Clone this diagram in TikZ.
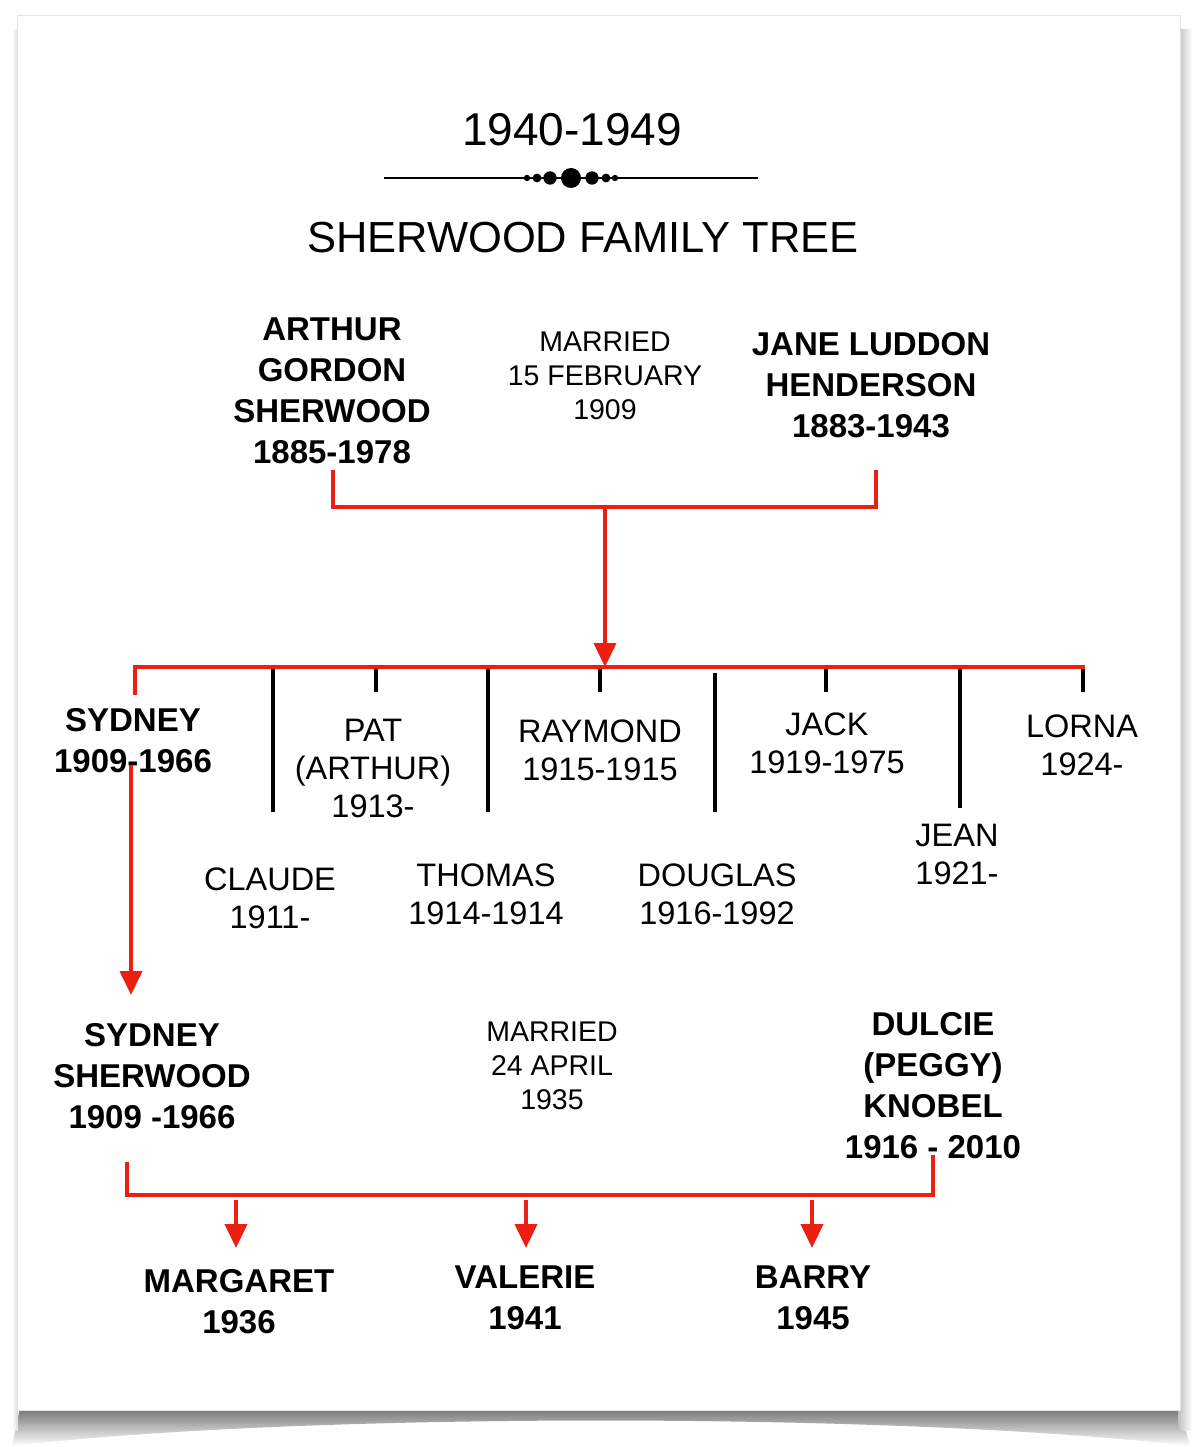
\documentclass[tikz,border=0pt]{standalone}
\usepackage{fontspec}
\setmainfont{Liberation Sans}
\usetikzlibrary{arrows.meta}
\definecolor{treered}{RGB}{236,32,18}
\tikzset{
  bname/.style={align=center, font=\fontsize{33}{41}\selectfont\bfseries, inner sep=0pt},
  rname/.style={align=center, font=\fontsize{32.5}{38}\selectfont, inner sep=0pt},
  mar/.style={align=center, font=\fontsize{28.5}{34}\selectfont, inner sep=0pt},
  redline/.style={draw=treered, line width=4pt},
  blackline/.style={draw=black, line width=3.5pt},
  redarrow/.style={redline, -{Triangle[length=24pt,width=22pt]}},
  orndot/.style={fill=black, draw=none},
}
\begin{document}
\begin{tikzpicture}[x=1pt, y=-1pt]
\useasboundingbox (0,0) rectangle (1200,1447);
% page shadow
\shade[top color=black!55, bottom color=white] (20,1408) -- (1180,1408) -- (1190,1446) .. controls (900,1412) and (300,1412) .. (12,1446) -- cycle;
\shade[left color=black!25, right color=white] (1178,30) rectangle (1192,1430);
\shade[left color=white, right color=black!15] (12,30) rectangle (18,1430);
\fill[white, draw=black!10, line width=0.6pt] (17,15) rectangle (1180,1410);

% title
\node[font=\fontsize{46}{50}\selectfont, inner sep=0pt] (year) at (572,130) {1940-1949};
\coordinate (ornL) at (384,178);
\coordinate (ornR) at (758,178);
\draw[line width=2pt] (ornL) -- (ornR);
\foreach \x/\r in {571/10,550/6.7,592/6.7,537/4.4,606/4.4,527/3.2,615/3.2}
  \fill[orndot] (\x,178) circle[radius=\r pt];
\node[font=\fontsize{43.5}{48}\selectfont, inner sep=0pt] (title) at (583,238) {SHERWOOD FAMILY TREE};

% parents
\node[bname] (arthur) at (332,391) {ARTHUR\\GORDON\\SHERWOOD\\1885-1978};
\node[mar] (married1) at (605,376) {MARRIED\\15 FEBRUARY\\1909};
\node[bname] (jane) at (871,385) {JANE LUDDON\\HENDERSON\\1883-1943};

% children of Arthur & Jane
\node[bname] (sydney) at (133,741) {SYDNEY\\1909-1966};
\node[rname] (claude) at (270,898) {CLAUDE\\1911-};
\node[rname] (pat) at (373,768) {PAT\\(ARTHUR)\\1913-};
\node[rname] (thomas) at (486,894) {THOMAS\\1914-1914};
\node[rname] (raymond) at (600,750) {RAYMOND\\1915-1915};
\node[rname] (douglas) at (717,894) {DOUGLAS\\1916-1992};
\node[rname] (jack) at (827,743) {JACK\\1919-1975};
\node[rname] (jean) at (957,854) {JEAN\\1921-};
\node[rname] (lorna) at (1082,745) {LORNA\\1924-};

% second couple
\node[bname] (sydney2) at (152,1076) {SYDNEY\\SHERWOOD\\1909 -1966};
\node[mar] (married2) at (552,1066) {MARRIED\\24 APRIL\\1935};
\node[bname] (dulcie) at (933,1086) {DULCIE\\(PEGGY)\\KNOBEL\\1916 - 2010};

% grandchildren
\node[bname] (margaret) at (239,1302) {MARGARET\\1936};
\node[bname] (valerie) at (525,1298) {VALERIE\\1941};
\node[bname] (barry) at (813,1298) {BARRY\\1945};

% coordinates for connectors
\coordinate (arthurEnd) at (333,470);
\coordinate (janeEnd) at (876,470);
\coordinate (pBarL) at (333,507);
\coordinate (pBarR) at (876,507);
\coordinate (pMid) at (605,507);
\coordinate (sibMid) at (605,667);
\coordinate (sydTop) at (135,695);
\coordinate (sibR) at (1085,667);

% black ticks
\coordinate (claudeTop) at (273,667);   \coordinate (claudeBot) at (273,812);
\coordinate (patTop) at (376,667);      \coordinate (patBot) at (376,692);
\coordinate (thomasTop) at (488,667);   \coordinate (thomasBot) at (488,812);
\coordinate (raymondTop) at (600,667);  \coordinate (raymondBot) at (600,692);
\coordinate (douglasTop) at (715,673);  \coordinate (douglasBot) at (715,812);
\coordinate (jackTop) at (826,667);     \coordinate (jackBot) at (826,692);
\coordinate (jeanTop) at (960,667);     \coordinate (jeanBot) at (960,808);
\coordinate (lornaTop) at (1083,667);   \coordinate (lornaBot) at (1083,692);
\foreach \n in {claude,pat,thomas,raymond,douglas,jack,jean,lorna}
  \draw[blackline] (\n Top) -- (\n Bot);

% red connectors
\draw[redline] (arthurEnd) -- (pBarL) -- (pBarR) -- (janeEnd);
\draw[redarrow] (pMid) -- (sibMid);
\draw[redline] (sydTop) |- (sibR);
\coordinate (sydA) at (131,765);
\coordinate (sydB) at (131,995);
\draw[redarrow] (sydA) -- (sydB);

\coordinate (s2End) at (127,1162);
\coordinate (dEnd) at (933,1155);
\coordinate (bBarL) at (127,1195);
\coordinate (bBarR) at (933,1195);
\draw[redline] (s2End) -- (bBarL) -- (bBarR) -- (dEnd);
\foreach \x/\n in {236/margaret,526/valerie,812/barry}{
  \coordinate (\n A) at (\x,1200);
  \coordinate (\n B) at (\x,1248);
  \draw[redarrow] (\n A) -- (\n B);
}
\end{tikzpicture}
\end{document}
